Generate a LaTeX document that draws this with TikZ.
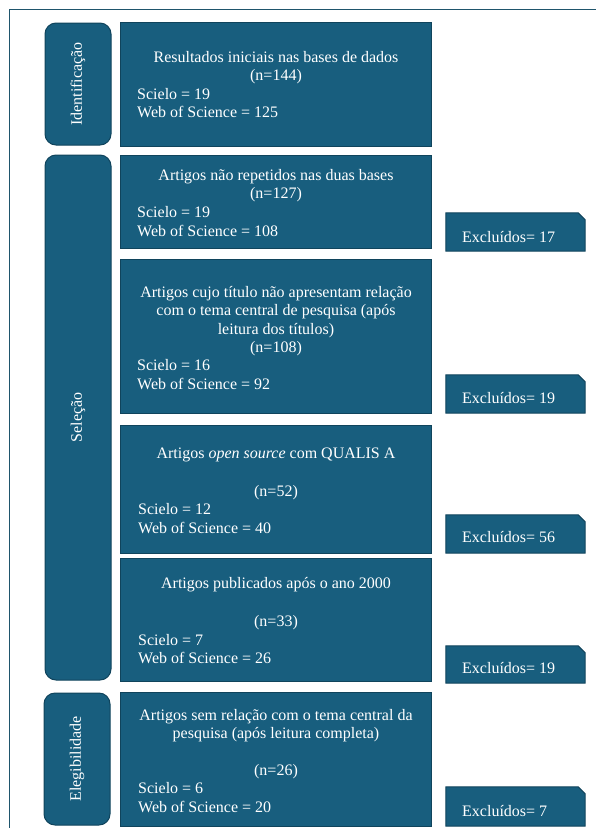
\documentclass[tikz,border=0pt]{standalone}
\usepackage{fontspec}
\setmainfont{Liberation Serif}
\definecolor{boxfill}{RGB}{24,94,126}
\definecolor{boxline}{RGB}{16,68,92}
\definecolor{frameline}{RGB}{31,85,108}
\tikzset{
  mainbox/.style={draw=boxline, fill=boxfill, line width=1pt, minimum width=311pt, inner sep=0pt},
  stagebox/.style={draw=boxline, fill=boxfill, line width=1pt, rounded corners=11pt, minimum width=66pt, inner sep=0pt},
  exclslot/.style={minimum width=139pt, inner sep=0pt},
  exclshape/.style={draw=boxline, fill=boxfill, line width=1pt},
  txt/.style={text=white, font=\fontsize{16}{18.4}\selectfont, inner sep=0pt},
  ctxt/.style={txt, align=center},
  ltxt/.style={txt, align=left, anchor=west},
  stagetxt/.style={txt, rotate=90}
}
\newcommand{\exclshapedraw}[1]{%
  \draw[exclshape] (#1.south west) -- (#1.north west) -- ([xshift=-7pt]#1.north east) -- ([yshift=-7pt]#1.north east) -- (#1.south east) -- cycle;}
\begin{document}
\begin{tikzpicture}[x=1pt,y=-1pt]
\useasboundingbox (0,0) rectangle (595,828);
\draw[frameline, line width=1.2pt] (9.5,830) -- (9.5,9.5) -- (597,9.5);

% stage labels
\node[stagebox, minimum height=122pt] (s1) at (78,84) {};
\node[stagetxt] (s1t) at (s1.center) {Identificação};
\node[stagebox, minimum height=525pt] (s2) at (78,417.5) {};
\node[stagetxt] (s2t) at (s2.center) {Seleção};
\node[stagebox, minimum height=132pt] (s3) at (77,759) {};
\node[stagetxt] (s3t) at (s3.center) {Elegibilidade};

% main boxes
\node[mainbox, minimum height=124pt] (b1) at (275.5,84) {};
\node[ctxt] (b1c) at (276,67.5) {Resultados iniciais nas bases de dados\\(n=144)};
\node[ltxt] (b1l) at (137,103) {Scielo = 19\\Web of Science = 125};

\node[mainbox, minimum height=93pt] (b2) at (275.5,201.5) {};
\node[ctxt] (b2c) at (276,185.5) {Artigos não repetidos nas duas bases\\(n=127)};
\node[ltxt] (b2l) at (137,221.5) {Scielo = 19\\Web of Science = 108};

\node[mainbox, minimum height=154pt] (b3) at (275.5,336) {};
\node[ctxt] (b3c) at (276,321) {Artigos cujo título não apresentam relação\\com o tema central de pesquisa (após\\leitura dos títulos)\\(n=108)};
\node[ltxt] (b3l) at (137,374.5) {Scielo = 16\\Web of Science = 92};

\node[mainbox, minimum height=128pt] (b4) at (276,489) {};
\node[ctxt] (b4c) at (276,454.5) {Artigos \textit{open source} com QUALIS A};
\node[ctxt] (b4n) at (276,492.5) {(n=52)};
\node[ltxt] (b4l) at (138,518.5) {Scielo = 12\\Web of Science = 40};

\node[mainbox, minimum height=123pt] (b5) at (275.5,619.5) {};
\node[ctxt] (b5c) at (276,584.5) {Artigos publicados após o ano 2000};
\node[ctxt] (b5n) at (276,622.5) {(n=33)};
\node[ltxt] (b5l) at (138,649) {Scielo = 7\\Web of Science = 26};

\node[mainbox, minimum height=134pt] (b6) at (276,759) {};
\node[ctxt] (b6c) at (276,725.5) {Artigos sem relação com o tema central da\\pesquisa (após leitura completa)};
\node[ctxt] (b6n) at (276,771.5) {(n=26)};
\node[ltxt] (b6l) at (138,797.5) {Scielo = 6\\Web of Science = 20};

% excluded boxes
\node[exclslot, minimum height=38pt] (e1) at (515.5,232) {};
\exclshapedraw{e1}
\node[ltxt] (e1t) at (462,237) {Excluídos= 17};
\node[exclslot, minimum height=38pt] (e2) at (515.5,394) {};
\exclshapedraw{e2}
\node[ltxt] (e2t) at (462,398) {Excluídos= 19};
\node[exclslot, minimum height=38pt] (e3) at (515.5,534) {};
\exclshapedraw{e3}
\node[ltxt] (e3t) at (462,537) {Excluídos= 56};
\node[exclslot, minimum height=37pt] (e4) at (515.5,664.5) {};
\exclshapedraw{e4}
\node[ltxt] (e4t) at (462,668) {Excluídos= 19};
\node[exclslot, minimum height=39pt] (e5) at (515.5,806.5) {};
\exclshapedraw{e5}
\node[ltxt] (e5t) at (462,811) {Excluídos= 7};
\end{tikzpicture}
\end{document}
